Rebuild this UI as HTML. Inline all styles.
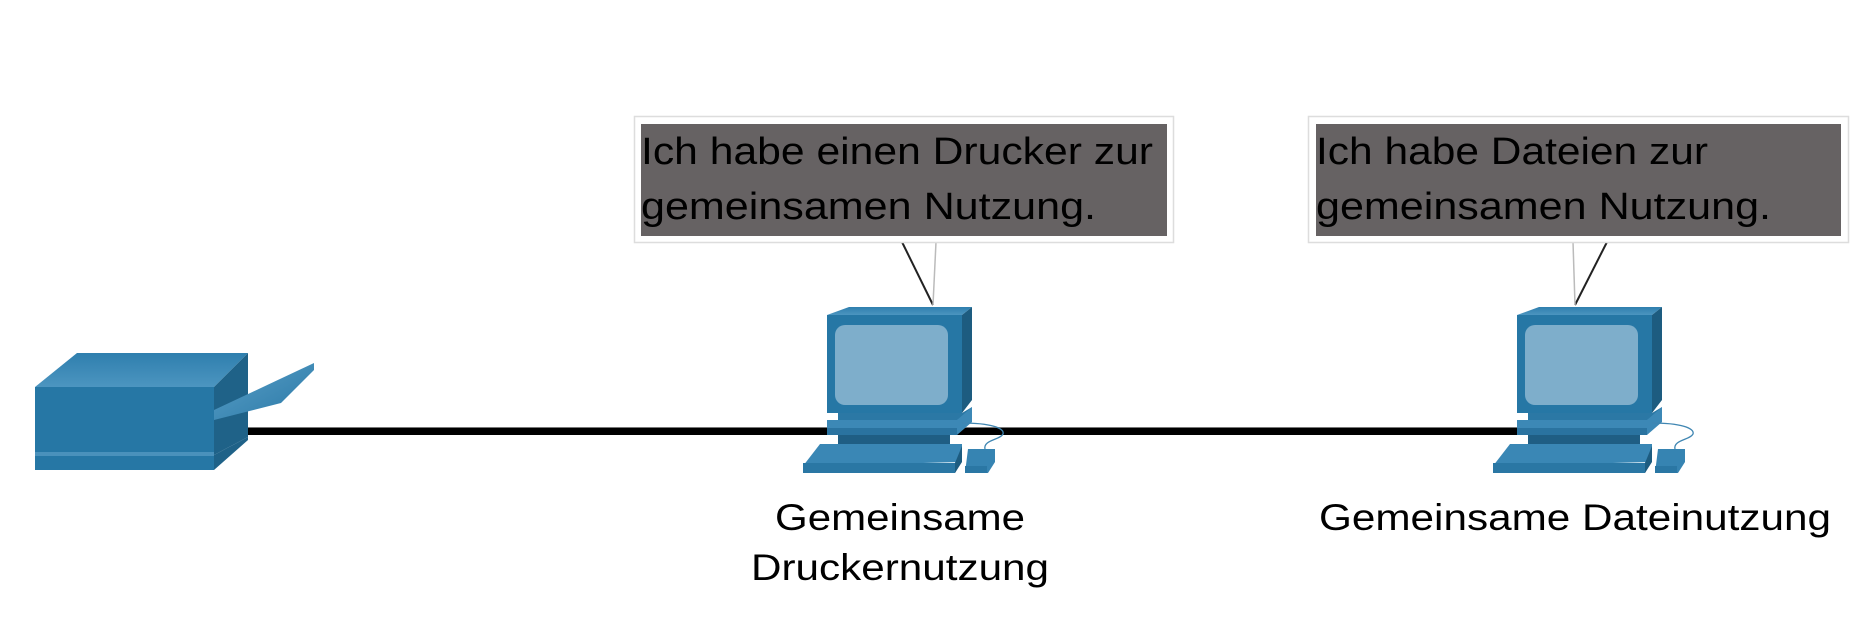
<!DOCTYPE html>
<html><head><meta charset="utf-8"><style>
html,body{margin:0;padding:0;background:#fff;}
svg{display:block;}
text{font-family:"Liberation Sans",Arial,sans-serif;}
</style></head><body>
<svg width="1876" height="636" viewBox="0 0 1876 636" xmlns="http://www.w3.org/2000/svg">
<defs>
<linearGradient id="top" x1="0" y1="0" x2="0" y2="1"><stop offset="0" stop-color="#2f7fae"/><stop offset="1" stop-color="#4c95c0"/></linearGradient>
<linearGradient id="tray" x1="0" y1="0" x2="1" y2="1"><stop offset="0" stop-color="#5aa0c8"/><stop offset="1" stop-color="#2a78a6"/></linearGradient>
<g id="pc">
  <!-- monitor -->
  <polygon points="827,315 849,307 972,307 962,315" fill="url(#top)"/>
  <polygon points="962,315 972,307 972,400 962,413" fill="#1d5c80"/>
  <rect x="827" y="315" width="135" height="98" fill="#2677a5"/>
  <rect x="835" y="325" width="113" height="80" rx="10" fill="#7eaecb"/>
  <!-- base plate -->
  <polygon points="838,413 962,413 972,407 972,418 957,420 838,420" fill="#2b78a5"/>
  <polygon points="827,420 957,420 972,407 972,422 957,435 827,435" fill="#3c88b6"/>
  <rect x="827" y="428" width="130" height="7" fill="#2a73a0"/>
  <rect x="838" y="435" width="112" height="9" fill="#1f5e84"/>
  <!-- keyboard -->
  <polygon points="820,444 962,444 962,462 803,466" fill="#3a87b5"/>
  <polygon points="803,463 955,463 962,448 962,460 955,473 803,473" fill="#2a77a4"/>
  <polygon points="955,463 962,446 962,462 955,473" fill="#1d5c80"/>
  <!-- mouse -->
  <polygon points="968,449 995,449 995,462 988,473 965,473" fill="#3684b2"/>
  <rect x="965" y="466" width="22" height="7" fill="#2a77a4"/>
  <path d="M962,423 C990,423 1005,428 1003,434 C1000,440 983,440 985,449" fill="none" stroke="#3f86b2" stroke-width="1.3"/>
</g>
</defs>
<!-- connection line -->
<rect x="240" y="427" width="1290" height="8" fill="#000"/>
<rect x="240" y="427" width="1290" height="1" fill="#777"/>
<!-- printer -->
<polygon points="35,387 77,353 248,353 214,387" fill="url(#top)"/>
<polygon points="214,387 248,353 248,437 214,455" fill="#1f6288"/>
<rect x="35" y="387" width="179" height="65" fill="#2677a5"/>
<rect x="35" y="452" width="179" height="4" fill="#4a91bb"/>
<rect x="35" y="456" width="179" height="14" fill="#2677a5"/>
<polygon points="214,455 248,437 248,440 214,470" fill="#1f6288"/>
<polygon points="214,410 314,363 314,370 281,403 214,420" fill="url(#tray)"/>
<!-- computers -->
<use href="#pc"/>
<use href="#pc" transform="translate(690,0)"/>
<!-- bubble 1 -->
<polygon points="902,242 936,242 933,305" fill="#fff"/>
<line x1="902" y1="242" x2="933" y2="305" stroke="#222" stroke-width="2"/>
<line x1="936" y1="242" x2="933" y2="305" stroke="#bbb" stroke-width="1.5"/>
<rect x="634.5" y="116.5" width="539" height="126" fill="#fff" stroke="#ddd" stroke-width="1.5"/>
<rect x="641" y="124" width="526" height="112" fill="#666263"/>
<text x="641" y="164" font-size="38" fill="#000" textLength="512" lengthAdjust="spacingAndGlyphs">Ich habe einen Drucker zur</text>
<text x="641" y="219" font-size="38" fill="#000" textLength="455" lengthAdjust="spacingAndGlyphs">gemeinsamen Nutzung.</text>
<!-- bubble 2 -->
<polygon points="1573,242 1607,242 1575,305" fill="#fff"/>
<line x1="1607" y1="242" x2="1575" y2="305" stroke="#222" stroke-width="2"/>
<line x1="1573" y1="242" x2="1575" y2="305" stroke="#bbb" stroke-width="1.5"/>
<rect x="1308.5" y="116.5" width="540" height="126" fill="#fff" stroke="#ddd" stroke-width="1.5"/>
<rect x="1316" y="124" width="525" height="112" fill="#666263"/>
<text x="1316" y="164" font-size="38" fill="#000" textLength="392" lengthAdjust="spacingAndGlyphs">Ich habe Dateien zur</text>
<text x="1316" y="219" font-size="38" fill="#000" textLength="455" lengthAdjust="spacingAndGlyphs">gemeinsamen Nutzung.</text>
<!-- labels -->
<text x="900" y="530" font-size="37" text-anchor="middle" fill="#000" textLength="250" lengthAdjust="spacingAndGlyphs">Gemeinsame</text>
<text x="900" y="580" font-size="37" text-anchor="middle" fill="#000" textLength="298" lengthAdjust="spacingAndGlyphs">Druckernutzung</text>
<text x="1575" y="530" font-size="37" text-anchor="middle" fill="#000" textLength="512" lengthAdjust="spacingAndGlyphs">Gemeinsame Dateinutzung</text>
</svg>
</body></html>
